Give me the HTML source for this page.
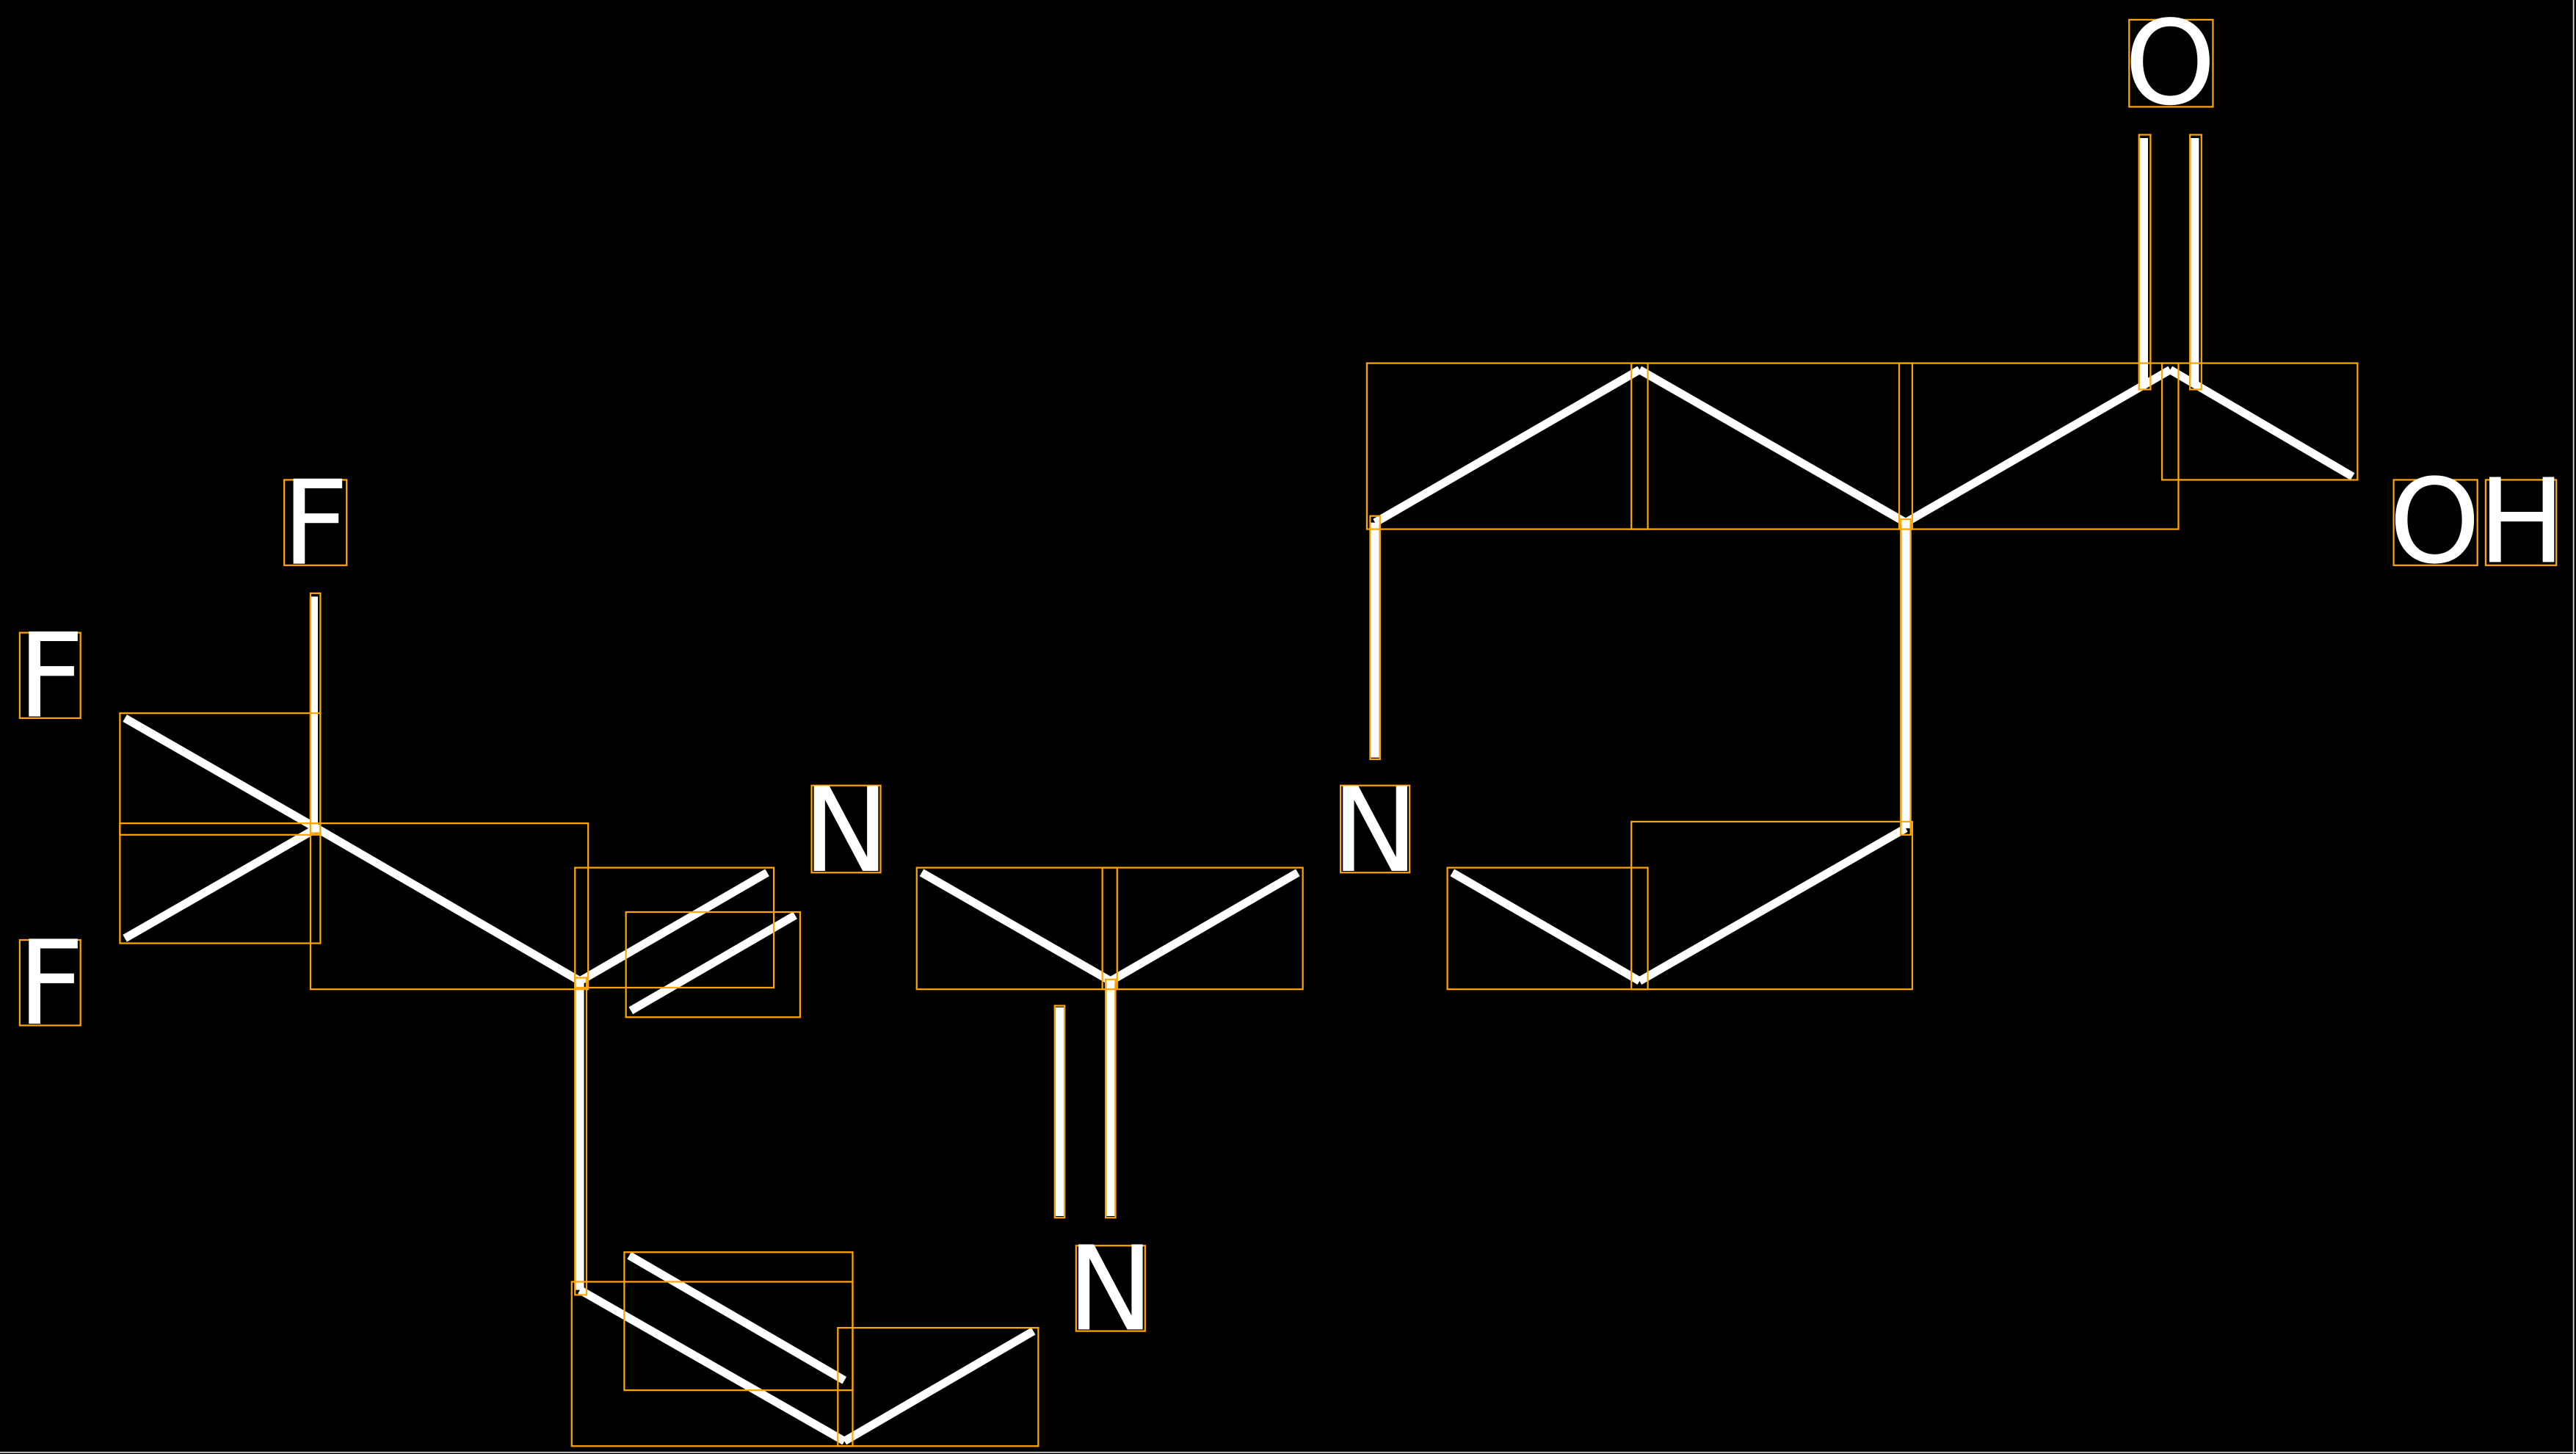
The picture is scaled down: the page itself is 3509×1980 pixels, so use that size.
<!DOCTYPE html>
<html><head><style>html,body{margin:0;padding:0;background:#000;overflow:hidden}svg{display:block}</style></head>
<body>
<svg width="3509" height="1980" viewBox="0 0 1568 884.8" preserveAspectRatio="none" xmlns="http://www.w3.org/2000/svg">
<rect width="1568" height="884.8" fill="#000"/>
<line x1="1566.5" y1="0" x2="1566.5" y2="884.8" stroke="#ddd" stroke-width="0.8"/>
<line x1="0" y1="883.8" x2="1568" y2="883.8" stroke="#ddd" stroke-width="0.8"/>
<g stroke="#fff" stroke-width="5" stroke-linecap="butt">
<line x1="191" y1="363" x2="191" y2="503"/>
<line x1="76" y1="437" x2="191" y2="503"/>
<line x1="76" y1="571" x2="191" y2="505"/>
<line x1="191" y1="503" x2="353" y2="597"/>
<line x1="353" y1="597" x2="467" y2="531"/>
<line x1="384" y1="615" x2="484" y2="557"/>
<line x1="353" y1="597" x2="353" y2="785"/>
<line x1="353" y1="785" x2="514" y2="877"/>
<line x1="383" y1="764" x2="514" y2="840"/>
<line x1="514" y1="877" x2="629" y2="810"/>
<line x1="561" y1="531" x2="676" y2="597"/>
<line x1="676" y1="597" x2="790" y2="531"/>
<line x1="676" y1="597" x2="676" y2="740"/>
<line x1="645" y1="613" x2="645" y2="740"/>
<line x1="884" y1="531" x2="998" y2="597"/>
<line x1="998" y1="597" x2="1160" y2="504"/>
<line x1="1160" y1="504" x2="1160" y2="318"/>
<line x1="837" y1="318" x2="837" y2="461"/>
<line x1="837" y1="318" x2="998" y2="225"/>
<line x1="998" y1="225" x2="1160" y2="318"/>
<line x1="1160" y1="318" x2="1321" y2="225"/>
<line x1="1321" y1="225" x2="1432" y2="290"/>
<line x1="1305" y1="84" x2="1305" y2="234"/>
<line x1="1336" y1="84" x2="1336" y2="234"/>
</g>
<g fill="none" stroke="#ffa500" stroke-width="1">
<rect x="73" y="434" width="122" height="74"/>
<rect x="73" y="501" width="122" height="73"/>
<rect x="189" y="501" width="169" height="101"/>
<rect x="350" y="528" width="121" height="73"/>
<rect x="381" y="555" width="106" height="64"/>
<rect x="348" y="780" width="171" height="100"/>
<rect x="380" y="762" width="139" height="84"/>
<rect x="510" y="808" width="122" height="72"/>
<rect x="558" y="528" width="122" height="74"/>
<rect x="671" y="528" width="122" height="74"/>
<rect x="881" y="528" width="122" height="74"/>
<rect x="993" y="500" width="171" height="102"/>
<rect x="832" y="221" width="171" height="101"/>
<rect x="993" y="221" width="171" height="101"/>
<rect x="1156" y="221" width="170" height="101"/>
<rect x="1316" y="221" width="119" height="71"/>
<rect x="189" y="361" width="6" height="146"/>
<rect x="350" y="595" width="7" height="193"/>
<rect x="673" y="596" width="6" height="145"/>
<rect x="642" y="612" width="6" height="129"/>
<rect x="834" y="314" width="6" height="148"/>
<rect x="1157" y="316" width="6" height="192"/>
<rect x="1302" y="82" width="7" height="155"/>
<rect x="1333" y="82" width="7" height="155"/>
<rect x="173" y="292" width="38" height="52"/>
<rect x="12" y="385" width="37" height="52"/>
<rect x="12" y="572" width="37" height="52"/>
<rect x="494" y="478" width="42" height="53"/>
<rect x="816" y="478" width="42" height="53"/>
<rect x="655" y="758" width="42" height="52"/>
<rect x="1296" y="12" width="51" height="53"/>
<rect x="1457" y="292" width="51" height="52"/>
<rect x="1513" y="292" width="43" height="52"/>
</g>
<g fill="#fff" font-family="'DejaVu Sans', 'Liberation Sans', sans-serif" font-size="71" text-anchor="middle">
<text x="192" y="343">F</text>
<text x="31" y="436">F</text>
<text x="31" y="623">F</text>
<text x="515" y="530">N</text>
<text x="837" y="530">N</text>
<text x="676" y="809">N</text>
<text x="1321" y="63">O</text>
<text x="1482" y="342">O</text>
<text x="1535" y="342">H</text>
</g>
</svg>
</body></html>
